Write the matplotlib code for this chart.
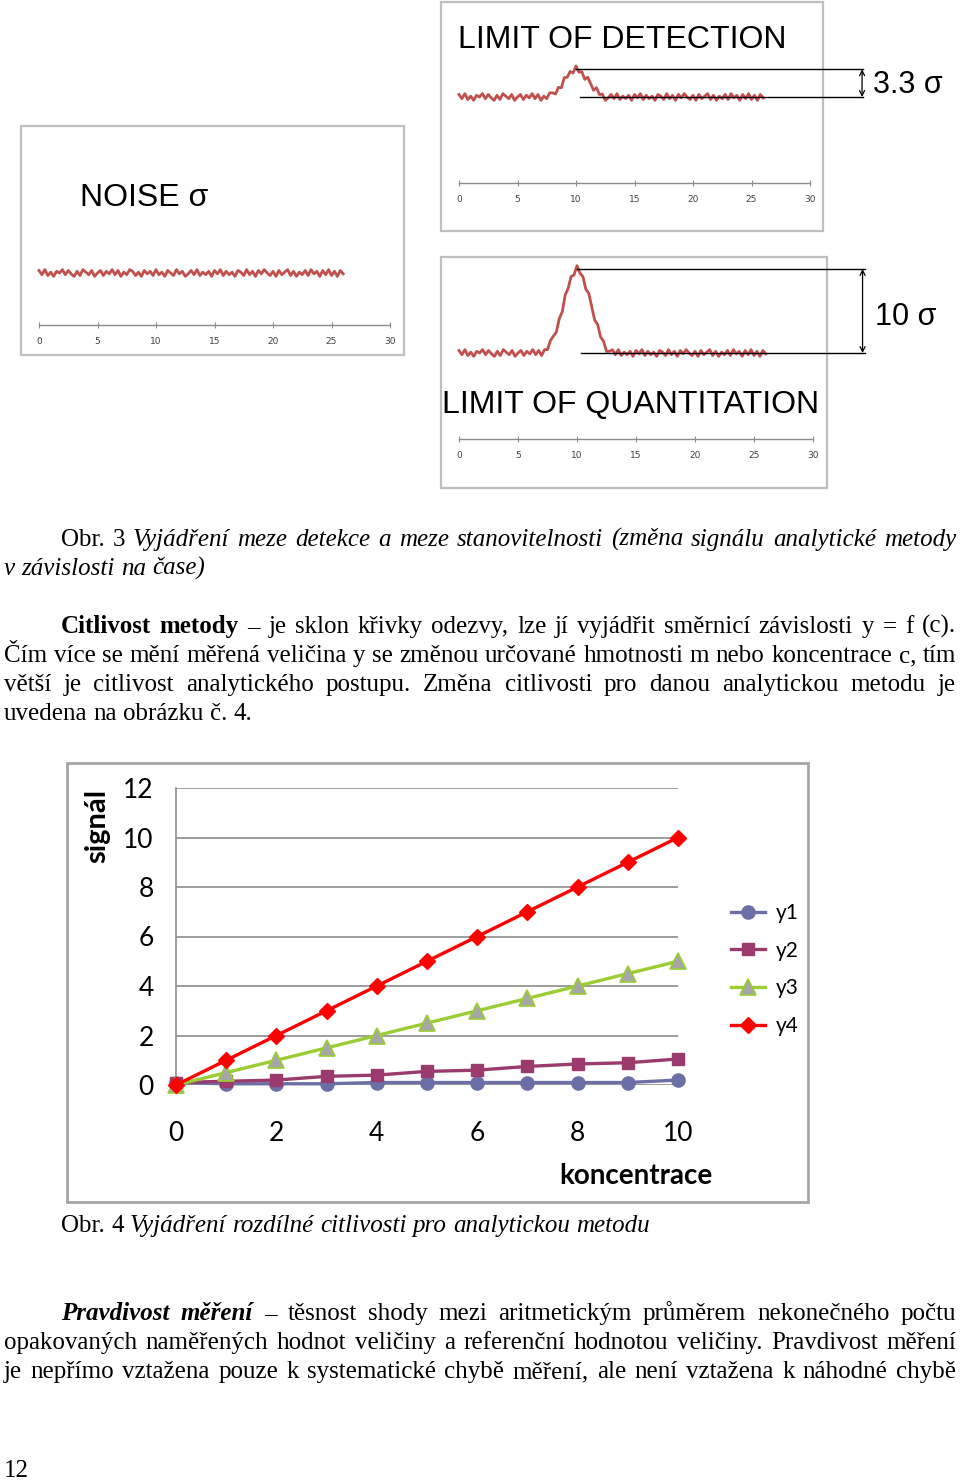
import matplotlib
matplotlib.use('Agg')
import matplotlib.pyplot as plt
import numpy as np
from matplotlib.patches import Rectangle

# ---------------- data ----------------
conc = [0, 1, 2, 3, 4, 5, 6, 7, 8, 9, 10]
y1 = [0.1, 0.05, 0.05, 0.05, 0.1, 0.1, 0.1, 0.1, 0.1, 0.1, 0.2]
y2 = [0.1, 0.15, 0.2, 0.35, 0.4, 0.55, 0.6, 0.75, 0.85, 0.9, 1.05]
y3 = [0.0, 0.5, 1.0, 1.5, 2.0, 2.5, 3.0, 3.5, 4.0, 4.5, 5.0]
y4 = [0.0, 1.0, 2.0, 3.0, 4.0, 5.0, 6.0, 7.0, 8.0, 9.0, 10.0]
series_labels = ['y1', 'y2', 'y3', 'y4']
x_ticks = [0, 2, 4, 6, 8, 10]
y_ticks = [0, 2, 4, 6, 8, 10, 12]
x_label = 'koncentrace'
y_label = 'signál'

# noise traces of the three small panels (time 0..26, step 0.25)
noise = [0.3, -0.2, 0.4, -0.3, 0.1, -0.4, 0.2, 0.0, 0.4, -0.2,
         0.3, -0.1, -0.4, 0.2, -0.3, 0.4, 0.1, -0.2, 0.3, -0.4,
         0.0, 0.3, -0.3, 0.2, -0.1, 0.4, -0.2, 0.3, -0.4, 0.1,
         -0.2, 0.4, 0.2, -0.3, 0.1, -0.4, 0.3, -0.1, 0.2, -0.3,
         0.4, -0.2, 0.1, -0.4, 0.3, 0.0, -0.3, 0.4, -0.1, 0.2,
         -0.4, -0.1, 0.3, -0.2, 0.4, -0.3, 0.1, -0.2, 0.2, -0.4,
         0.3, -0.1, 0.4, -0.3, 0.2, -0.2, 0.1, -0.4, 0.3, 0.1,
         -0.3, 0.4, -0.2, 0.2, -0.4, 0.3, -0.1, 0.4, 0.0, -0.3,
         0.2, -0.4, 0.3, -0.2, 0.1, 0.4, -0.3, 0.2, -0.4, 0.1,
         -0.2, 0.3, -0.3, 0.4, -0.1, 0.2, -0.4, 0.3, -0.2, 0.4,
         -0.3, 0.2, -0.4, 0.3, -0.1]
lod_start = 7.5    # time where the LOD peak values begin
lod_peak = [0.0, 0.1, 0.3, 0.65, 1.05, 1.5, 2.0, 2.45, 2.85, 3.15, 3.3,
            3.15, 2.9, 2.5, 2.05, 1.6, 1.1, 0.7, 0.4, 0.15, 0.0]
loq_start = 7.0    # time where the LOQ peak values begin
loq_peak = [0.1, 0.3, 0.6, 1.1, 1.8, 2.8, 4.0, 5.3, 6.6, 7.8, 8.9, 9.6, 10.0,
            9.7, 9.0, 8.0, 6.8, 5.5, 4.2, 3.0, 2.0, 1.2, 0.6, 0.3, 0.1]
lod_height = 3.3
loq_height = 10.0
panel_ticks = [0, 5, 10, 15, 20, 25, 30]

# ---------------- figure ----------------
W, H = 960, 1480
fig = plt.figure(figsize=(W / 100, H / 100), dpi=100)
fig.patch.set_facecolor('white')
page = fig.add_axes([0, 0, 1, 1])
page.set_xlim(0, W)
page.set_ylim(H, 0)
page.axis('off')
renderer = fig.canvas.get_renderer()


def px_axes(l, t, r, b):
    return fig.add_axes([l / W, 1 - b / H, (r - l) / W, (b - t) / H])


SANS = 'Liberation Sans'
SERIF = 'Liberation Serif'
CHART = 'Lato'
TRACE = '#c0504d'

# --------------- small panels ---------------
t = np.arange(len(noise)) * 0.25
SCALE = 8.4  # px per signal unit


def make_panel(box, x0, x30, top, axis_y, base_y, peak=None, start=0.0):
    bx0, by0, bx1, by1 = box
    page.add_patch(Rectangle((bx0, by0), bx1 - bx0, by1 - by0, fill=False,
                             edgecolor='#bfbfbf', lw=1.6))
    ax = px_axes(x0, top, x30, axis_y)
    ax.set_facecolor('none')
    ax.set_xlim(0, 30)
    ax.set_ylim(-(axis_y - base_y) / SCALE, (base_y - top) / SCALE)
    for s in ['top', 'right', 'left']:
        ax.spines[s].set_visible(False)
    ax.spines['bottom'].set_color('#8c8c8c')
    ax.spines['bottom'].set_linewidth(1.0)
    ax.set_yticks([])
    ax.set_xticks(panel_ticks)
    ax.tick_params(axis='x', direction='inout', length=5, width=0.8,
                   color='#8c8c8c', labelsize=6.5, labelcolor='#404040', pad=6)
    sig = np.array(noise, dtype=float)
    if peak is not None:
        i0 = int(round(start / 0.25))
        sig[i0:i0 + len(peak)] += np.array(peak)
    ax.plot(t, sig, color=TRACE, lw=2.0, solid_joinstyle='round', clip_on=False)
    return ax


make_panel((21, 126, 404, 355), 39, 390, 126, 325, 273)
ax_lod = make_panel((441, 2, 823, 231), 459, 810, 2, 183, 97, lod_peak, lod_start)
ax_loq = make_panel((441, 257, 827, 488), 459, 813, 257, 439, 353, loq_peak, loq_start)


def bracket(ax, h, x_end, x_arrow):
    ax.plot([10, x_end], [h, h], color='black', lw=1.0, clip_on=False)
    ax.plot([10.3, x_end], [0, 0], color='black', lw=1.0, clip_on=False)
    ax.annotate('', xy=(x_arrow, h), xytext=(x_arrow, 0),
                arrowprops=dict(arrowstyle='<->', lw=0.9, color='black',
                                shrinkA=0, shrinkB=0, mutation_scale=9),
                annotation_clip=False)


bracket(ax_lod, lod_height, 34.55, 34.45)
bracket(ax_loq, loq_height, 34.4, 34.2)

page.text(80, 206, 'NOISE σ', family=SANS, fontsize=23, va='baseline')
page.text(458, 48, 'LIMIT OF DETECTION', family=SANS, fontsize=23, va='baseline')
page.text(442, 413, 'LIMIT OF QUANTITATION', family=SANS, fontsize=23, va='baseline')
page.text(873, 93, '3.3 σ', family=SANS, fontsize=22, va='baseline')
page.text(875, 325, '10 σ', family=SANS, fontsize=22, va='baseline')

# --------------- body text ---------------
FS = 18
STY = {'r': dict(style='normal', weight='normal'),
       'i': dict(style='italic', weight='normal'),
       'b': dict(style='normal', weight='bold'),
       'bi': dict(style='italic', weight='bold')}


def put_line(segments, x0, x1, yb, justify=True):
    words = []
    for st, txt in segments:
        for w in txt.split(' '):
            if w:
                words.append((st, w))
    texts = [page.text(0, yb, w, family=SERIF, fontsize=FS, va='baseline',
                       ha='left', **STY[st]) for st, w in words]
    widths = [tx.get_window_extent(renderer).width for tx in texts]
    if justify and len(texts) > 1:
        gap = (x1 - x0 - sum(widths)) / (len(texts) - 1)
    else:
        gap = FS * 100 / 72 * 0.25
    x = x0
    for tx, w in zip(texts, widths):
        tx.set_x(x)
        x += w + gap


L, R, IND = 4, 956, 61
put_line([('r', 'Obr. 3'), ('i', 'Vyjádření meze detekce a meze stanovitelnosti (změna signálu analytické metody')], IND, R, 546)
put_line([('i', 'v závislosti na čase)')], L, R, 575, justify=False)

put_line([('b', 'Citlivost metody'), ('r', '– je sklon křivky odezvy, lze jí vyjádřit směrnicí závislosti y = f (c).')], IND, R, 633)
put_line([('r', 'Čím více se mění měřená veličina y se změnou určované hmotnosti m nebo koncentrace c, tím')], L, R, 662)
put_line([('r', 'větší je citlivost analytického postupu. Změna citlivosti pro danou analytickou metodu je')], L, R, 691)
put_line([('r', 'uvedena na obrázku č. 4.')], L, R, 720, justify=False)

put_line([('r', 'Obr. 4'), ('i', 'Vyjádření rozdílné citlivosti pro analytickou metodu')], IND, R, 1232, justify=False)

put_line([('bi', 'Pravdivost měření'), ('r', '– těsnost shody mezi aritmetickým průměrem nekonečného počtu')], IND, R, 1320)
put_line([('r', 'opakovaných naměřených hodnot veličiny a referenční hodnotou veličiny. Pravdivost měření')], L, R, 1349)
put_line([('r', 'je nepřímo vztažena pouze k systematické chybě měření, ale není vztažena k náhodné chybě')], L, R, 1378)
put_line([('r', '12')], L, R, 1477, justify=False)

# --------------- line chart ---------------
page.add_patch(Rectangle((67, 763), 808 - 67, 1202 - 763, fill=False,
                         edgecolor='#a6a6a6', lw=2))
ax = px_axes(176, 788, 678, 1085)
ax.set_facecolor('none')
ax.set_xlim(0, 10)
ax.set_ylim(0, 12)
ax.set_xticks(x_ticks)
ax.set_yticks(y_ticks)
ax.yaxis.grid(True, color='#8c8c8c', lw=1.2)
ax.set_axisbelow(True)
for s in ['top', 'right', 'bottom']:
    ax.spines[s].set_visible(False)
ax.spines['left'].set_color('#8c8c8c')
ax.spines['left'].set_linewidth(1.2)
ax.tick_params(axis='both', length=0, labelsize=19)
ax.tick_params(axis='y', pad=16)
ax.tick_params(axis='x', pad=26)
for lab in ax.get_xticklabels() + ax.get_yticklabels():
    lab.set_family(CHART)

styles = [dict(color='#6b6fa6', marker='o', ms=9.5, mfc='#6b6fa6', mec='#6b6fa6'),
          dict(color='#9b3b6d', marker='s', ms=8.5, mfc='#9b3b6d', mec='#9b3b6d'),
          dict(color='#9acd32', marker='^', ms=11, mfc='#a6a6a6', mec='#9acd32', mew=1.2),
          dict(color='#ff0000', marker='D', ms=8, mfc='#ff0000', mec='#ff0000')]
handles = []
for ys, lab, st in zip([y1, y2, y3, y4], series_labels, styles):
    h, = ax.plot(conc, ys, lw=2.4, label=lab, clip_on=False, zorder=3, **st)
    handles.append(h)

fig.legend(handles=handles, loc='upper left',
           bbox_to_anchor=(731 / W, 1 - 903 / H), frameon=False,
           prop=dict(family=CHART, size=15), handlelength=1.65,
           handletextpad=0.5, labelspacing=0.85, borderaxespad=0, borderpad=0)

page.text(97, 826, y_label, family=CHART, weight='bold', fontsize=21,
          rotation=90, ha='center', va='center')
page.text(636, 1176, x_label, family=CHART, weight='bold', fontsize=20,
          ha='center', va='center')

fig.savefig('out.png', dpi=100)
